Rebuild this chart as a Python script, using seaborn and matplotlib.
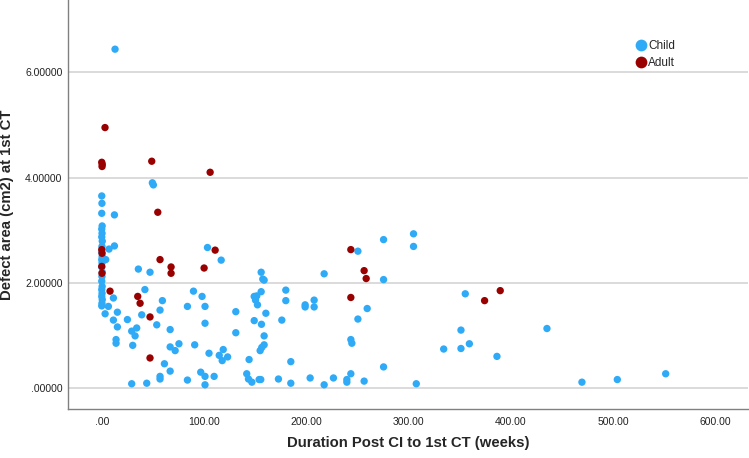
import matplotlib
matplotlib.use("Agg")
import matplotlib.pyplot as plt
import seaborn as sns
import pandas as pd

# ---- data ----
child_x = [0.0, 0.2, 0.0, 0.4, 0.0, 0.3, 0.0, 0.5, 0.2, 0.0, 0.4, 0.0, 0.3, 0.0, 0.5, 0.2,
           0.0, 0.4, 0.0, 0.3, 0.0, 0.5, 0.2, 0.0,
           13.0, 49.5, 50.5, 12.4, 7.1, 12.4, 3.9, 11.4, 6.5, 3.3, 15.3, 11.4, 15.3, 14.0, 14.0,
           25.1, 29.3, 34.2, 32.6, 30.3, 35.8, 42.2, 47.2, 59.3, 57.0, 39.1, 53.8, 66.9, 75.5,
           66.9, 71.8, 61.3, 66.9, 57.0, 57.0, 29.3, 44.0,
           103.4, 116.8, 155.9, 157.5, 158.8, 217.5, 89.7, 98.1, 83.8, 101.0, 101.0, 90.9, 104.9,
           114.9, 118.8, 123.1, 117.8, 131.1, 131.1, 96.8, 101.0, 83.8, 101.0, 109.9, 144.1,
           141.8, 143.5, 146.8, 153.9, 155.5, 149.1, 151.6, 150.4, 152.3, 155.9, 160.5, 149.1,
           156.2, 158.8, 158.8, 156.5, 154.9, 180.0, 180.0, 176.1, 184.9, 172.8, 184.9, 198.9,
           198.9, 207.7, 207.7, 203.8, 217.5,
           250.5, 275.6, 304.9, 304.9, 275.6, 259.6, 250.5, 243.6, 244.6, 275.6, 243.6, 226.6,
           239.7, 239.7, 256.6, 307.6, 355.5, 351.3, 359.5, 351.3, 334.4,
           435.4, 386.5, 469.6, 504.2, 551.5]
child_y = [3.65, 3.51, 3.32, 3.08, 3.02, 2.94, 2.87, 2.79, 2.69, 2.58, 2.50, 2.44, 2.38, 2.30,
           2.20, 2.12, 2.03, 1.93, 1.87, 1.80, 1.74, 1.68, 1.61, 1.56,
           6.44, 3.90, 3.86, 3.29, 2.64, 2.70, 2.44, 1.71, 1.55, 1.41, 1.44, 1.29, 1.16, 0.92, 0.85,
           1.30, 1.08, 1.14, 0.99, 0.81, 2.26, 1.87, 2.20, 1.66, 1.48, 1.39, 1.20, 1.11, 0.84,
           0.78, 0.71, 0.46, 0.32, 0.22, 0.17, 0.08, 0.09,
           2.67, 2.43, 2.20, 2.07, 2.05, 2.17, 1.84, 1.74, 1.55, 1.55, 1.23, 0.82, 0.66,
           0.62, 0.73, 0.59, 0.52, 1.45, 1.05, 0.30, 0.22, 0.15, 0.06, 0.22, 0.54,
           0.27, 0.17, 0.11, 0.16, 0.16, 1.74, 1.75, 1.67, 1.58, 1.83, 1.42, 1.28,
           1.21, 0.99, 0.82, 0.77, 0.71, 1.86, 1.66, 1.29, 0.50, 0.17, 0.09, 1.58,
           1.54, 1.67, 1.54, 0.19, 0.06,
           2.60, 2.82, 2.93, 2.69, 2.06, 1.51, 1.31, 0.92, 0.85, 0.40, 0.27, 0.19,
           0.16, 0.11, 0.13, 0.08, 1.79, 1.10, 0.84, 0.75, 0.74,
           1.13, 0.60, 0.11, 0.16, 0.27]

adult_x = [3.2, 0.0, 0.5, 0.3, 48.9, 54.8, 0.0, 0.3, 0.0, 0.2, 8.1, 35.2, 37.5, 57.0, 67.8,
           67.8, 47.2, 47.2, 106.0, 110.9, 100.1, 243.6, 256.6, 258.6, 243.6, 374.4, 389.7]
adult_y = [4.95, 4.29, 4.25, 4.21, 4.31, 3.34, 2.63, 2.56, 2.31, 2.18, 1.84, 1.74, 1.61, 2.44,
           2.30, 2.18, 1.35, 0.57, 4.10, 2.62, 2.28, 2.63, 2.23, 2.08, 1.72, 1.66, 1.85]

x_ticks = [0, 100, 200, 300, 400, 500, 600]
x_tick_labels = [".00", "100.00", "200.00", "300.00", "400.00", "500.00", "600.00"]
y_ticks = [0, 2, 4, 6]
y_tick_labels = [".00000", "2.00000", "4.00000", "6.00000"]

df = pd.DataFrame({
    "dur": child_x + adult_x,
    "area": child_y + adult_y,
    "group": ["Child"] * len(child_x) + ["Adult"] * len(adult_x),
})

sns.set_style("white")
plt.rcParams["font.family"] = ["Liberation Sans", "DejaVu Sans"]

fig = plt.figure(figsize=(7.49, 4.58), dpi=100)
ax = fig.add_axes([68 / 749, 49 / 458, 680 / 749, 409 / 458])

palette = {"Child": "#2eaaf6", "Adult": "#990000"}
sns.scatterplot(data=df, x="dur", y="area", hue="group", hue_order=["Child", "Adult"],
                palette=palette, s=28, linewidth=0, alpha=1, ax=ax, zorder=3)

ax.set_xlim(-33, 632)
ax.set_ylim(-0.40, 7.375)
ax.set_xticks(x_ticks)
ax.set_xticklabels(x_tick_labels)
ax.set_yticks(y_ticks)
ax.set_yticklabels(y_tick_labels)
ax.tick_params(axis="both", length=0, labelsize=7.5, colors="#222222")
ax.tick_params(axis="y", pad=4)
ax.tick_params(axis="x", pad=6)

ax.yaxis.grid(True, color="#d4d4d4", linewidth=1.2)
ax.xaxis.grid(False)
ax.set_axisbelow(True)
for side in ["top", "right"]:
    ax.spines[side].set_visible(False)
for side in ["left", "bottom"]:
    ax.spines[side].set_color("#808080")
    ax.spines[side].set_linewidth(1.0)

ax.set_xlabel("Duration Post CI to 1st CT (weeks)", fontsize=10.7, fontweight="bold")
ax.set_ylabel("Defect area (cm2) at 1st CT", fontsize=10.7, fontweight="bold")
ax.xaxis.set_label_coords(0.5, -0.066)
ax.yaxis.set_label_coords(-0.080, 0.5)

handles, labels = ax.get_legend_handles_labels()
ax.legend(handles, labels, loc="upper left", bbox_to_anchor=(634 / 749, 1 - 40 / 458),
          bbox_transform=fig.transFigure, frameon=False, markerscale=1.6,
          handletextpad=0.0, labelspacing=0.4, borderpad=0, borderaxespad=0,
          handlelength=1.2, fontsize=8.5)

fig.savefig("out.png", dpi=100)
